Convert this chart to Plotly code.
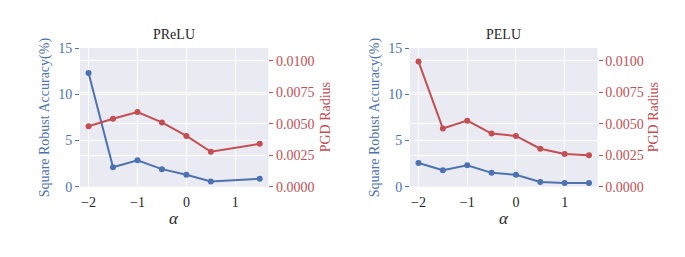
import plotly.graph_objects as go

alpha = [-2, -1.5, -1, -0.5, 0, 0.5, 1, 1.5]
prelu_acc = [12.3, 2.1, 2.85, 1.9, 1.3, 0.57, None, 0.86]
prelu_pgd = [0.00479, 0.00539, 0.00592, 0.00510, 0.00403, 0.00277, None, 0.00340]
pelu_acc = [2.57, 1.79, 2.32, 1.5, 1.29, 0.5, 0.39, 0.39]
pelu_pgd = [0.00992, 0.00461, 0.00524, 0.00421, 0.00403, 0.00301, 0.00259, 0.00249]

titles = ["PReLU", "PELU"]
x_ticks = [-2, -1, 0, 1]
acc_ticks = [0, 5, 10, 15]
pgd_ticks = [0.0, 0.0025, 0.005, 0.0075, 0.01]
pgd_ticklabels = ["0.0000", "0.0025", "0.0050", "0.0075", "0.0100"]

BLUE = "#4C72B0"
RED = "#C44E52"
BG = "#EAEAF2"
FONT = "Liberation Serif"
TXT = "#262626"

fig = go.Figure()

panels = [
    dict(acc=prelu_acc, pgd=prelu_pgd, x0=80 / 685, x1=268.3 / 685,
         xa="x", ya="y", ya2="y2"),
    dict(acc=pelu_acc, pgd=pelu_pgd, x0=410 / 685, x1=597.5 / 685,
         xa="x2", ya="y3", ya2="y4"),
]

for p in panels:
    fig.add_trace(go.Scatter(x=alpha, y=p["acc"], mode="lines+markers", connectgaps=True,
                             line=dict(color=BLUE, width=2), marker=dict(color=BLUE, size=6),
                             xaxis=p["xa"], yaxis=p["ya"], showlegend=False))
    fig.add_trace(go.Scatter(x=alpha, y=p["pgd"], mode="lines+markers", connectgaps=True,
                             line=dict(color=RED, width=2), marker=dict(color=RED, size=6),
                             xaxis=p["xa"], yaxis=p["ya2"], showlegend=False))

ydom = [1 - 186.7 / 257, 1 - 48 / 257]
layout = dict(
    width=685, height=257, margin=dict(l=0, r=0, t=0, b=0, autoexpand=False),
    paper_bgcolor="white", plot_bgcolor=BG,
    font=dict(family=FONT, size=14, color=TXT),
)

common_x = dict(range=[-2.175, 1.675], tickvals=x_ticks, showgrid=True, gridcolor="white",
                gridwidth=1.2, zeroline=False, showline=False, ticks="", automargin=False,
                ticklabelstandoff=5, tickfont=dict(family=FONT, size=14, color=TXT))
common_yl = dict(range=[0, 15], tickvals=acc_ticks, showgrid=True, gridcolor="white",
                 gridwidth=1.2, zeroline=False, showline=False, ticks="outside", ticklen=4,
                 tickcolor=BLUE, tickwidth=1.2, automargin=False,
                 tickfont=dict(family=FONT, size=14, color=BLUE))
common_yr = dict(range=[0, 0.011], tickvals=pgd_ticks, ticktext=pgd_ticklabels, showgrid=True,
                 gridcolor="white", gridwidth=1.2, zeroline=False, showline=False,
                 ticks="outside", ticklen=4, tickcolor=RED, tickwidth=1.2, side="right",
                 automargin=False, tickfont=dict(family=FONT, size=14, color=RED))

layout["xaxis"] = dict(domain=[panels[0]["x0"], panels[0]["x1"]], anchor="y", **common_x)
layout["yaxis"] = dict(domain=ydom, anchor="x", **common_yl)
layout["yaxis2"] = dict(overlaying="y", anchor="x", **common_yr)
layout["xaxis2"] = dict(domain=[panels[1]["x0"], panels[1]["x1"]], anchor="y3", **common_x)
layout["yaxis3"] = dict(domain=ydom, anchor="x2", **common_yl)
layout["yaxis4"] = dict(overlaying="y3", anchor="x2", **common_yr)

fig.update_layout(**layout)

ann = []
label_pos = [(45, 325), (375, 653)]
for i, p in enumerate(panels):
    cx = (p["x0"] + p["x1"]) / 2
    ann.append(dict(text=titles[i], x=cx, y=1 - 35 / 257, xref="paper", yref="paper",
                    showarrow=False, font=dict(family=FONT, size=14, color=TXT),
                    xanchor="center", yanchor="middle"))
    ann.append(dict(text="<i>α</i>", x=cx, y=1 - 218 / 257, xref="paper", yref="paper",
                    showarrow=False, font=dict(family=FONT, size=17, color=TXT),
                    xanchor="center", yanchor="middle"))
    lx, rx = label_pos[i]
    ann.append(dict(text="Square Robust Accuracy(%)", x=lx / 685, y=(ydom[0] + ydom[1]) / 2,
                    xref="paper", yref="paper", showarrow=False, textangle=-90,
                    font=dict(family=FONT, size=14, color=BLUE),
                    xanchor="center", yanchor="middle"))
    ann.append(dict(text="PGD Radius", x=rx / 685, y=(ydom[0] + ydom[1]) / 2,
                    xref="paper", yref="paper", showarrow=False, textangle=-90,
                    font=dict(family=FONT, size=14, color=RED),
                    xanchor="center", yanchor="middle"))
fig.update_layout(annotations=ann)

fig.write_html("out.html", config={"displayModeBar": False},
               post_script="document.body.style.margin='0';document.body.style.overflow='hidden';")
